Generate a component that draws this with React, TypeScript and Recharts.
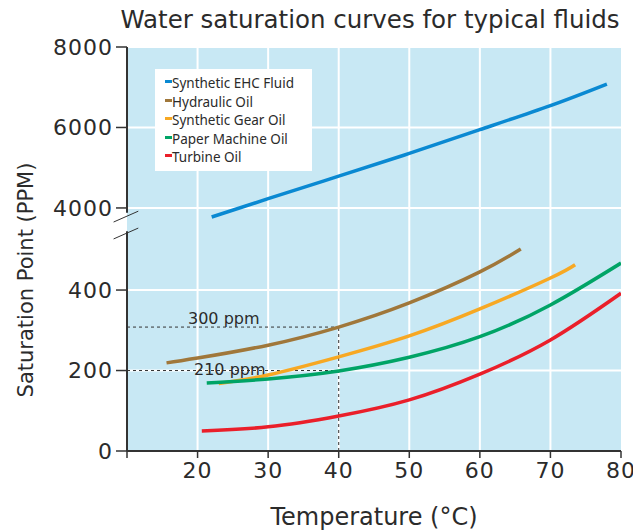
import React from 'react';
import { ComposedChart, Line, XAxis, YAxis, CartesianGrid, ReferenceLine, Legend } from 'recharts';

// ---- data ----
const ehcTemps = [22, 30, 40, 50, 60, 70, 78];
const ehcValues = [3775, 4230, 4790, 5355, 5945, 6545, 7080];
const hydTemps = [15.6, 20, 30, 40, 50, 60, 65.8];
const hydValues = [219, 231, 263, 308, 368, 445, 502];
const gearTemps = [23, 30, 40, 50, 60, 70, 73.5];
const gearValues = [168, 189, 234, 286, 353, 430, 463];
const paperTemps = [21.3, 30, 40, 50, 60, 70, 80];
const paperValues = [169, 179, 199, 233, 284, 363, 467];
const turbTemps = [20.6, 30, 40, 50, 60, 70, 80];
const turbValues = [50, 60, 87, 127, 191, 276, 392];

const xTicks = [10, 20, 30, 40, 50, 60, 70, 80];
const yTickLabels = [0, 200, 400, 4000, 6000, 8000];

const seriesNames = ['Synthetic EHC Fluid', 'Hydraulic Oil', 'Synthetic Gear Oil', 'Paper Machine Oil', 'Turbine Oil'];
const seriesColors = ['#0a89d2', '#a0773a', '#f7a823', '#00a466', '#ea1f2a'];

// broken axis: upper segment (thousands) is compressed 10x above the break
const BREAK_BASE = 604;
const toAxis = (v: number) => (v >= 1000 ? BREAK_BASE + (v - 4000) / 10 : v);
const yTicks = yTickLabels.map(toAxis);
const tickLabelOf = (t: number) => {
  const i = yTicks.findIndex((y) => Math.abs(y - t) < 0.01);
  return i >= 0 ? String(yTickLabels[i]) : '';
};

const build = (ts: number[], vs: number[]) => ts.map((t, i) => ({ t, v: toAxis(vs[i]) }));
const seriesData = [
  build(ehcTemps, ehcValues),
  build(hydTemps, hydValues),
  build(gearTemps, gearValues),
  build(paperTemps, paperValues),
  build(turbTemps, turbValues),
];

const FONT = 'DejaVu Sans, sans-serif';
const TXT = '#2b2b2b';
const BG = '#c8e8f4';
const AX = '#333';

const LegendBox = () => (
  <div
    style={{
      background: '#fff',
      width: 157,
      padding: '5px 0 4px 10px',
      boxSizing: 'border-box',
      fontFamily: 'Noto Sans, sans-serif',
      fontSize: 13.5,
      color: TXT,
      textAlign: 'left',
    }}
  >
    {seriesNames.map((n, i) => (
      <div key={n} style={{ display: 'flex', alignItems: 'center', height: 18.5, position: 'relative' }}>
        <span style={{ position: 'absolute', left: 0, top: 6, width: 7, height: 3, background: seriesColors[i] }} />
        <span style={{ marginLeft: 7, whiteSpace: 'nowrap' }}>{n}</span>
      </div>
    ))}
  </div>
);

const YLabel = () => {
  const cx = 18;
  const cy = 272;
  return (
    <text x={cx} y={cy} transform={`rotate(-90, ${cx}, ${cy})`} textAnchor="middle" dominantBaseline="central"
      fontFamily={FONT} fontSize={21} fill={TXT}>
      Saturation Point (PPM)
    </text>
  );
};

const XLabel = (props: any) => {
  const vb = props.viewBox || {};
  return (
    <text x={vb.x + vb.width / 2} y={509} textAnchor="middle" dominantBaseline="central"
      fontFamily={FONT} fontSize={24} fill={TXT}>
      Temperature (°C)
    </text>
  );
};

const PpmLabel = (text: string, dx: number, dy: number) => (props: any) => {
  const vb = props.viewBox || {};
  return (
    <text x={vb.x + dx} y={vb.y + dy} dominantBaseline="central" fontFamily={FONT} fontSize={16} fill={TXT}>
      {text}
    </text>
  );
};

const tickStyle = { fontFamily: FONT, fontSize: 22, fill: TXT, letterSpacing: 1 };

export default function App() {
  return (
    <div style={{ width: 633, height: 524, position: 'relative' }}>
      <div style={{ position: 'absolute', left: 108, top: -3, width: 508, textAlign: 'center', whiteSpace: 'nowrap', fontFamily: FONT, fontSize: 24.5, color: TXT }}>
        Water saturation curves for typical fluids
      </div>
      <ComposedChart width={633} height={524} margin={{ top: 39, right: 20, bottom: 41, left: 0 }}>
        <CartesianGrid fill={BG} stroke="#ffffff" strokeWidth={2} horizontalValues={yTicks} verticalValues={[20, 30, 40, 50, 60, 70]} />
        <XAxis
          type="number"
          dataKey="t"
          domain={[10, 80]}
          ticks={xTicks}
          allowDataOverflow
          height={40}
          tickSize={7}
          tickMargin={4}
          interval={0}
          tickFormatter={(t: number) => (t === 10 ? '' : String(t))}
          tick={tickStyle}
          axisLine={{ stroke: AX, strokeWidth: 2 }}
          tickLine={{ stroke: AX, strokeWidth: 1.5 }}
          label={<XLabel />}
        />
        <YAxis
          type="number"
          dataKey="v"
          domain={[0, 1004]}
          ticks={yTicks}
          allowDataOverflow
          interval={0}
          width={119}
          tickSize={11}
          tickMargin={3}
          tickFormatter={tickLabelOf}
          tick={tickStyle}
          axisLine={false}
          tickLine={{ stroke: AX, strokeWidth: 1.5 }}
          label={<YLabel />}
        />
        {/* broken y axis line and slashes */}
        <ReferenceLine segment={[{ x: 10, y: 0 }, { x: 10, y: 546 }]} stroke={AX} strokeWidth={2} ifOverflow="visible" />
        <ReferenceLine segment={[{ x: 10, y: 592 }, { x: 10, y: 1004 }]} stroke={AX} strokeWidth={2} ifOverflow="visible" />
        <ReferenceLine segment={[{ x: 8.1, y: 569 }, { x: 11.6, y: 596 }]} stroke={AX} strokeWidth={1} ifOverflow="visible" />
        <ReferenceLine segment={[{ x: 8.1, y: 527 }, { x: 11.6, y: 554 }]} stroke={AX} strokeWidth={1} ifOverflow="visible" />
        {/* dashed guides */}
        <ReferenceLine segment={[{ x: 10, y: 308 }, { x: 40, y: 308 }]} stroke={AX} strokeDasharray="3 3" strokeWidth={1}
          label={PpmLabel('300 ppm', 61, -9)} />
        <ReferenceLine segment={[{ x: 10, y: 200 }, { x: 40, y: 200 }]} stroke={AX} strokeDasharray="3 3" strokeWidth={1}
          label={PpmLabel('210 ppm', 67, -1)} />
        <ReferenceLine segment={[{ x: 40, y: 0 }, { x: 40, y: 308 }]} stroke={AX} strokeDasharray="3 3" strokeWidth={1} />
        {seriesData.map((d, i) => (
          <Line
            key={seriesNames[i]}
            data={d}
            dataKey="v"
            name={seriesNames[i]}
            type="natural"
            stroke={seriesColors[i]}
            strokeWidth={3.5}
            dot={false}
            activeDot={false}
            isAnimationActive={false}
          />
        ))}
        <Legend
          layout="horizontal"
          verticalAlign="middle"
          align="center"
          content={<LegendBox />}
          wrapperStyle={{ position: 'absolute', left: 147, top: 61, width: 157 }}
        />
      </ComposedChart>
    </div>
  );
}
